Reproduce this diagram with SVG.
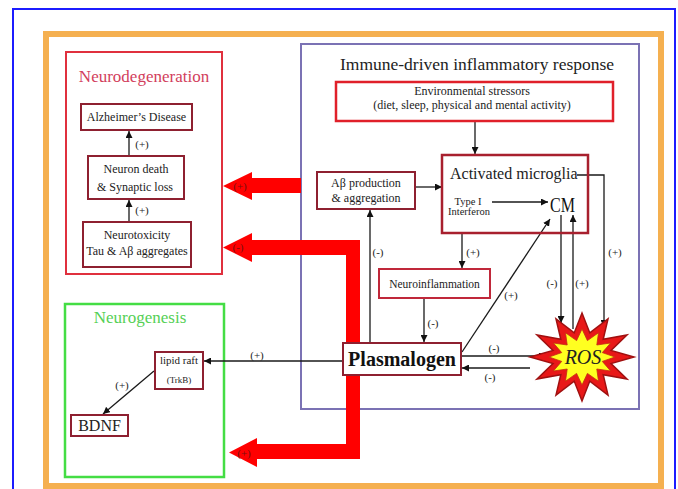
<svg xmlns="http://www.w3.org/2000/svg" width="678" height="489" viewBox="0 0 678 489">
<defs>
<marker id="ah" viewBox="0 0 10 10" refX="10" refY="5" markerWidth="7" markerHeight="7" markerUnits="userSpaceOnUse" orient="auto">
<path d="M0,0 L10,5 L0,10 z" fill="#111"/>
</marker>
<style>
text{font-family:"Liberation Serif","Times New Roman",serif;fill:#222}
.box{fill:#fff;stroke:#8e2030;stroke-width:2}
.lbl{font-size:11px;text-anchor:middle}
.ln{stroke:#1a1a1a;stroke-width:1.3;fill:none}
.arr{stroke:#1a1a1a;stroke-width:1.3;fill:none;marker-end:url(#ah)}
.big{fill:#ff0000}
.bl{font-size:11px;text-anchor:middle;fill:#7a1010}
</style>
</defs>
<rect width="678" height="489" fill="#fff"/>
<rect x="13" y="9" width="662" height="490" fill="none" stroke="#1c1cff" stroke-width="2"/>
<rect x="46" y="34" width="615" height="452" fill="none" stroke="#f5b050" stroke-width="6"/>

<g id="neurodegeneration">
<rect x="66" y="52" width="156" height="222" fill="#fff" stroke="#e0303e" stroke-width="2"/>
<text x="144" y="82" font-size="17" text-anchor="middle" style="fill:#d23e5c">Neurodegeneration</text>
</g>
<g id="immune">
<rect x="301" y="44" width="338" height="365" fill="none" stroke="#7b72b4" stroke-width="2"/>
<text x="477" y="70" font-size="17.5" text-anchor="middle">Immune-driven inflammatory response</text>
</g>
<g id="neurogenesis">
<rect x="65" y="304" width="159" height="173" fill="none" stroke="#44dd44" stroke-width="2.5"/>
<text x="140" y="323" font-size="17" text-anchor="middle" style="fill:#55d055">Neurogenesis</text>
</g>

<g id="big-arrows">
<polygon class="big" points="301,178 252,178 252,172 223,186 252,200 252,193 301,193"/>
<text class="bl" x="240" y="190">(+)</text>
<polygon class="big" points="360,240 252,240 252,233 223,247.5 252,262 252,255 346,255 346,444 257,444 257,438 229,452.5 257,467 257,459 360,459"/>
<text class="bl" x="238" y="251">(-)</text>
<text class="bl" x="244" y="457">(+)</text>
</g>

<g id="connectors">
<line class="arr" x1="129" y1="222" x2="129" y2="200"/>
<line class="arr" x1="129" y1="156" x2="129" y2="131"/>
<line class="arr" x1="475" y1="121" x2="475" y2="154"/>
<line class="arr" x1="415" y1="187" x2="442" y2="187"/>
<line class="arr" x1="492" y1="202" x2="548" y2="202"/>
<line class="arr" x1="462" y1="233" x2="462" y2="268"/>
<line class="arr" x1="424" y1="298" x2="424" y2="342"/>
<line class="arr" x1="370" y1="343" x2="370" y2="210"/>
<line class="arr" x1="462" y1="352" x2="550" y2="219"/>
<polyline class="arr" points="577,175 604,175 604,327"/>
<line class="arr" x1="561" y1="215" x2="561" y2="323"/>
<line class="arr" x1="573" y1="329" x2="573" y2="215"/>
<line class="arr" x1="461" y1="356" x2="546" y2="356"/>
<line class="arr" x1="530" y1="368" x2="462" y2="368"/>
<line class="arr" x1="343" y1="361" x2="204" y2="361"/>
<line class="arr" x1="154" y1="371" x2="103" y2="414"/>
<text class="lbl" x="142" y="148">(+)</text>
<text class="lbl" x="142" y="214">(+)</text>
<text class="lbl" x="378" y="256">(-)</text>
<text class="lbl" x="473" y="256">(+)</text>
<text class="lbl" x="433" y="327">(-)</text>
<text class="lbl" x="511" y="299">(+)</text>
<text class="lbl" x="552" y="287">(-)</text>
<text class="lbl" x="582" y="287">(+)</text>
<text class="lbl" x="615" y="256">(+)</text>
<text class="lbl" x="494" y="352">(-)</text>
<text class="lbl" x="490" y="381">(-)</text>
<text class="lbl" x="257" y="359">(+)</text>
<text class="lbl" x="122" y="389">(+)</text>
</g>

<g id="alzheimers">
<rect class="box" x="81" y="104" width="111" height="26"/>
<text x="136.5" y="121" font-size="12" text-anchor="middle">Alzheimer’s Disease</text>
</g>
<g id="neuron-death">
<rect class="box" x="88" y="156" width="96" height="43"/>
<text x="136" y="173" font-size="12" text-anchor="middle">Neuron death</text>
<text x="135" y="191" font-size="12" text-anchor="middle">&amp; Synaptic loss</text>
</g>
<g id="neurotoxicity">
<rect class="box" x="83" y="222" width="108" height="45"/>
<text x="137" y="239" font-size="12" text-anchor="middle">Neurotoxicity</text>
<text x="137" y="255" font-size="12" text-anchor="middle">Tau &amp; Aβ aggregates</text>
</g>
<g id="env">
<rect x="336" y="82" width="277" height="39" fill="#fff" stroke="#e0202a" stroke-width="2.5"/>
<text x="472" y="95" font-size="12" text-anchor="middle">Environmental stressors</text>
<text x="472" y="108.5" font-size="12" text-anchor="middle">(diet, sleep, physical and mental activity)</text>
</g>
<g id="abeta">
<rect class="box" x="317" y="172" width="98" height="37"/>
<text x="366" y="187" font-size="12" text-anchor="middle">Aβ  production</text>
<text x="366" y="202" font-size="12" text-anchor="middle">&amp; aggregation</text>
</g>
<g id="microglia">
<rect x="442" y="155" width="146" height="78" fill="none" stroke="#a8202e" stroke-width="2.5"/>
<text x="450" y="179" font-size="16">Activated microglia</text>
<text x="468" y="205" font-size="10.5" text-anchor="middle">Type I</text>
<text x="469" y="215" font-size="10.5" text-anchor="middle">Interferon</text>
<text x="550" y="212" font-size="22" textLength="25" lengthAdjust="spacingAndGlyphs" style="fill:#111">CM</text>
</g>
<g id="neuroinflammation">
<rect x="379" y="269" width="111" height="29" fill="#fff" stroke="#c0283a" stroke-width="2"/>
<text x="434.5" y="288" font-size="11.5" text-anchor="middle">Neuroinflammation</text>
</g>
<g id="plasmalogen">
<rect class="box" x="343" y="343" width="118" height="32"/>
<text x="402" y="366" font-size="20" font-weight="bold" text-anchor="middle" style="fill:#111">Plasmalogen</text>
</g>
<g id="ros">
<polygon fill="#e81818" stroke="#a01010" stroke-width="1.5" points="582,313 589.8,332.9 608,318.9 603.2,339.3 627,335 611,350.5 634,357 611,363.5 627,379 603.2,374.7 608,395.1 589.8,381.1 582,401 574.2,381.1 556,395.1 560.8,374.7 537,379 553,363.5 530,357 553,350.5 537,335 560.8,339.3 556,318.9 574.2,332.9"/>
<polygon fill="#ffff20" stroke="#c03010" stroke-width="0.8" points="582,329 587.4,340.6 598.5,332.8 596.8,345 610.6,343 602.3,352.6 615,357 602.3,361.4 610.6,371 596.8,369 598.5,381.2 587.4,373.4 582,385 576.6,373.4 565.5,381.2 567.2,369 553.4,371 561.7,361.4 549,357 561.7,352.6 553.4,343 567.2,345 565.5,332.8 576.6,340.6"/>
<text x="583" y="364" font-size="20" font-style="italic" text-anchor="middle" style="fill:#222">ROS</text>
</g>
<g id="lipid-raft">
<rect class="box" x="155" y="352" width="48" height="37"/>
<text x="179" y="364" font-size="11" text-anchor="middle">lipid raft</text>
<text x="179" y="383" font-size="9" text-anchor="middle">(TrkB)</text>
</g>
<g id="bdnf">
<rect class="box" x="71" y="415" width="57" height="21"/>
<text x="99.5" y="431" font-size="16" text-anchor="middle">BDNF</text>
</g>
</svg>
